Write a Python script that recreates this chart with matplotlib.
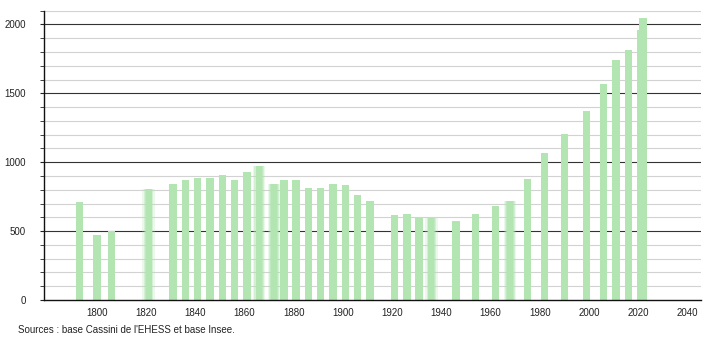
import matplotlib.pyplot as plt
from matplotlib.ticker import MultipleLocator

plt.rcParams['font.family'] = ['Liberation Sans', 'DejaVu Sans']

# années de recensement et population
annees = [1793, 1800, 1806, 1821, 1831, 1836, 1841, 1846, 1851, 1856,
          1861, 1866, 1872, 1876, 1881, 1886, 1891, 1896, 1901, 1906,
          1911, 1921, 1926, 1931, 1936, 1946, 1954, 1962, 1968, 1975,
          1982, 1990, 1999, 2006, 2011, 2016, 2021, 2022]
population = [712, 471, 500, 804, 843, 870, 882, 884, 906, 870,
              932, 971, 843, 870, 870, 812, 812, 843, 833, 761,
              717, 616, 625, 592, 592, 572, 625, 681, 717, 877,
              1065, 1203, 1370, 1565, 1744, 1812, 1961, 2048]
# barres "floues" dans l'original
floues = [1821, 1866, 1872, 1936, 1968]

couleur = '#b2e5b2'

fig = plt.figure(figsize=(7.1, 3.4), dpi=100)
ax = fig.add_axes([0.062, 0.1176, 0.925, 0.851])

# grille
for v in range(100, 2101, 100):
    if v % 500 == 0:
        ax.axhline(v, color='#333333', lw=0.8, zorder=1)
    else:
        ax.axhline(v, color='#d2d2d2', lw=0.8, zorder=1)

for a, p in zip(annees, population):
    if a in floues:
        for k, al in [(5.0, 0.25), (4.0, 0.4), (3.0, 0.6)]:
            ax.bar(a, p, width=k, color=couleur, alpha=al, lw=0, zorder=2)
        ax.bar(a, p, width=2.4, color=couleur, lw=0, zorder=2)
    else:
        ax.bar(a, p, width=3.0, color=couleur, lw=0, zorder=2)

ax.set_xlim(1778.5, 2045.5)
ax.set_ylim(0, 2100)
ax.set_xticks(range(1800, 2041, 20))
ax.yaxis.set_major_locator(MultipleLocator(500))
ax.yaxis.set_minor_locator(MultipleLocator(100))
ax.tick_params(axis='x', length=0, labelsize=7, pad=6, colors='#222222')
ax.tick_params(axis='y', which='major', length=3, labelsize=7, pad=10, colors='#222222')
ax.tick_params(axis='y', which='minor', length=3, color='#222222')

for s in ['top', 'right']:
    ax.spines[s].set_visible(False)
ax.spines['left'].set_color('#111111')
ax.spines['bottom'].set_color('#111111')
ax.spines['left'].set_linewidth(1)
ax.spines['bottom'].set_linewidth(1)

fig.text(0.025, 0.02, "Sources : base Cassini de l'EHESS et base Insee.",
         fontsize=7, color='#222222')

fig.savefig('out.png', dpi=100)
